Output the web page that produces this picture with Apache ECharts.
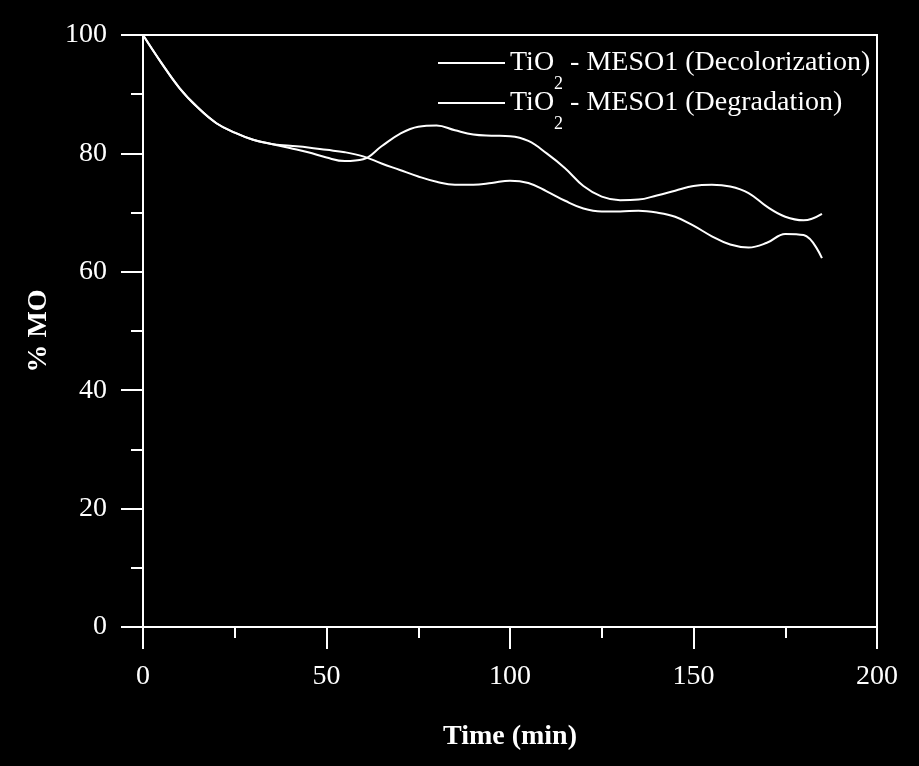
<!DOCTYPE html>
<html><head><meta charset="utf-8">
<script src="https://cdn.jsdelivr.net/npm/echarts@6/dist/echarts.min.js"></script>
<style>html,body{margin:0;padding:0;background:#000;}#c{width:919px;height:766px;}</style>
</head><body><div id="c"></div>
<script>
const time = [0,5,10,15,20,25,30,35,40,45,50,55,60,65,70,75,80,85,90,95,100,105,110,115,120,125,130,135,140,145,150,155,160,165,170,175,180,185];
const decolorization = [100,95.3,91.0,87.7,85.1,83.5,82.3,81.6,80.9,80.2,79.3,78.7,79.0,81.2,83.3,84.5,84.7,83.9,83.2,83.0,82.9,82.1,80.0,77.5,74.5,72.7,72.1,72.2,72.9,73.7,74.5,74.7,74.4,73.3,71.0,69.3,68.7,69.8];
const degradation = [100,95.3,91.0,87.7,85.1,83.5,82.3,81.6,81.3,81.0,80.6,80.2,79.5,78.3,77.2,76.1,75.2,74.7,74.7,75.0,75.4,75.0,73.6,72.0,70.7,70.2,70.2,70.3,70.0,69.3,67.8,66.0,64.6,64.1,64.9,66.4,66.2,62.3];
const seriesNames = ['TiO{s|2} - MESO1 (Decolorization)', 'TiO{s|2} - MESO1 (Degradation)'];
const xTicks = [0,50,100,150,200];
const yTicks = [0,20,40,60,80,100];

const font = 'Liberation Serif, Times New Roman, serif';
const chart = echarts.init(document.getElementById('c'));
const pair = a => time.map((t,i)=>[t,a[i]]);
chart.setOption({
  backgroundColor:'#000',
  animation:false,
  grid:{left:143,right:42,top:35,bottom:139,show:true,borderColor:'#fff',borderWidth:2,backgroundColor:'transparent'},
  legend:{
    orient:'vertical', left:433, top:44, itemGap:-4,
    itemWidth:67, itemHeight:2, icon:'rect',
    data:[{name:seriesNames[0]},{name:seriesNames[1]}],
    textStyle:{color:'#fff',fontFamily:font,fontSize:28,
      rich:{s:{fontSize:18,fontFamily:font,color:'#fff',verticalAlign:'bottom',padding:[0,0,-16,0]}}}
  },
  xAxis:{
    type:'value',min:0,max:200,interval:50,
    name:'Time (min)',nameLocation:'middle',nameGap:96,
    nameTextStyle:{color:'#fff',fontFamily:font,fontSize:28,fontWeight:'bold'},
    axisLine:{show:true,lineStyle:{color:'#fff',width:2}},
    axisTick:{show:true,length:22,lineStyle:{color:'#fff',width:2}},
    minorTick:{show:true,splitNumber:2,length:11,lineStyle:{color:'#fff',width:2}},
    splitLine:{show:false},
    axisLabel:{color:'#fff',fontFamily:font,fontSize:28,margin:36,
      formatter:v=>xTicks.includes(v)?String(v):''}
  },
  yAxis:{
    type:'value',min:0,max:100,interval:20,
    name:'% MO',nameLocation:'middle',nameGap:90,
    nameTextStyle:{color:'#fff',fontFamily:font,fontSize:28,fontWeight:'bold'},
    axisLine:{show:true,lineStyle:{color:'#fff',width:2}},
    axisTick:{show:true,length:22,lineStyle:{color:'#fff',width:2}},
    minorTick:{show:true,splitNumber:2,length:12,lineStyle:{color:'#fff',width:2}},
    splitLine:{show:false},
    axisLabel:{color:'#fff',fontFamily:font,fontSize:28,margin:36,
      formatter:v=>yTicks.includes(v)?String(v):''}
  },
  series:[
    {name:seriesNames[0],type:'line',data:pair(decolorization),smooth:0.4,showSymbol:false,
      lineStyle:{color:'#fff',width:2},itemStyle:{color:'#fff'}},
    {name:seriesNames[1],type:'line',data:pair(degradation),smooth:0.4,showSymbol:false,
      lineStyle:{color:'#fff',width:2},itemStyle:{color:'#fff'}}
  ]
});
</script></body></html>
